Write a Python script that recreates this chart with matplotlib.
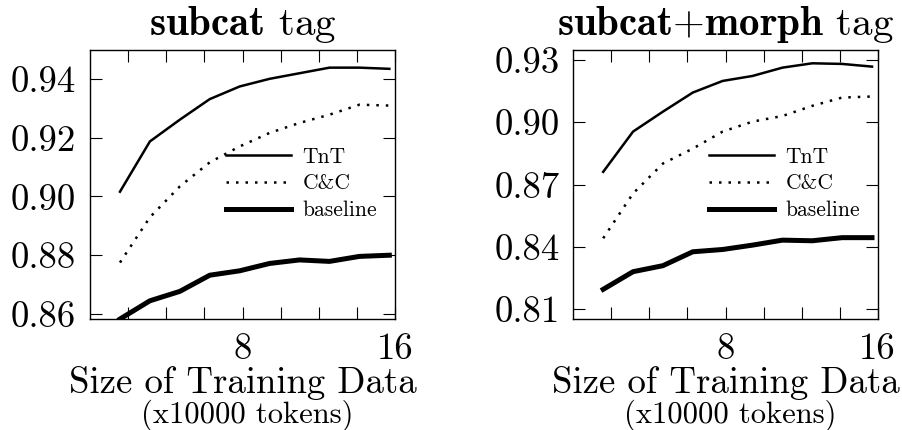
import matplotlib
matplotlib.use("Agg")
import matplotlib.pyplot as plt

plt.rcParams['font.family'] = 'serif'
plt.rcParams['font.serif'] = ['cmr10']
plt.rcParams['mathtext.fontset'] = 'cm'
plt.rcParams['axes.formatter.use_mathtext'] = True

# training size (x10000 tokens)
sizes = [1.57, 3.14, 4.71, 6.28, 7.85, 9.42, 10.99, 12.56, 14.13, 15.70]

# subcat tag
tnt_sub = [0.9016, 0.9187, 0.9261, 0.9331, 0.9374, 0.9400, 0.9419, 0.9438, 0.9438, 0.9434]
cc_sub = [0.8775, 0.8929, 0.9034, 0.9116, 0.9170, 0.9216, 0.9250, 0.9278, 0.9312, 0.9309]
base_sub = [0.8583, 0.8645, 0.8677, 0.8732, 0.8747, 0.8772, 0.8784, 0.8779, 0.8796, 0.8800]

# subcat+morph tag
tnt_morph = [0.8761, 0.8955, 0.9051, 0.9143, 0.9199, 0.9223, 0.9263, 0.9284, 0.9281, 0.9268]
cc_morph = [0.8441, 0.8657, 0.8801, 0.8873, 0.8955, 0.9003, 0.9030, 0.9079, 0.9119, 0.9124]
base_morph = [0.8195, 0.8280, 0.8309, 0.8376, 0.8387, 0.8408, 0.8432, 0.8429, 0.8444, 0.8444]

xticks = [2, 4, 6, 8, 10, 12, 14, 16]
xticklabels = ['', '', '', '8', '', '', '', '16']
yticks_sub = [0.86, 0.88, 0.90, 0.92, 0.94]
yticks_morph = [0.81, 0.84, 0.87, 0.90, 0.93]

fig = plt.figure(figsize=(9.03, 4.30), dpi=100)
ax1 = fig.add_axes([0.0997, 0.2581, 0.3378, 0.6256])
ax2 = fig.add_axes([0.6349, 0.2581, 0.3371, 0.6256])

panels = [
    (ax1, tnt_sub, cc_sub, base_sub, yticks_sub, (0.8583, 0.9498), r'$\mathbf{subcat}$ tag'),
    (ax2, tnt_morph, cc_morph, base_morph, yticks_morph, (0.8052, 0.9348), r'$\mathbf{subcat{+}morph}$ tag'),
]

for ax, tnt, cc, base, yt, ylim, title in panels:
    ax.plot(sizes, tnt, color='black', lw=1.8, label='TnT')
    ax.plot(sizes, cc, color='black', lw=1.8, linestyle=(0, (1, 2.8)), label='C&C')
    ax.plot(sizes, base, color='black', lw=3.6, label='baseline')
    ax.set_xlim(0, 16)
    ax.set_ylim(*ylim)
    ax.set_xticks(xticks)
    ax.set_xticklabels(xticklabels)
    ax.set_yticks(yt)
    ax.set_yticklabels(['%.2f' % v for v in yt])
    ax.tick_params(direction='in', length=8.5, width=0.8, top=True, right=True,
                   labelsize=26.5, pad=10)
    for s in ax.spines.values():
        s.set_linewidth(1.0)
    ax.set_title(title, fontsize=29.5, pad=11)
    ax.set_xlabel('Size of Training Data', fontsize=26.5, labelpad=0)
    ax.text(0.517, -0.30, '(x10000 tokens)', transform=ax.transAxes,
            ha='center', va='top', fontsize=22)
    ax.legend(loc='center left', bbox_to_anchor=(0.446, 0.503), frameon=False,
              borderpad=0, borderaxespad=0,
              fontsize=15.5, handlelength=3.0, handletextpad=0.56, labelspacing=0.33)

fig.savefig('out.png', dpi=100)
